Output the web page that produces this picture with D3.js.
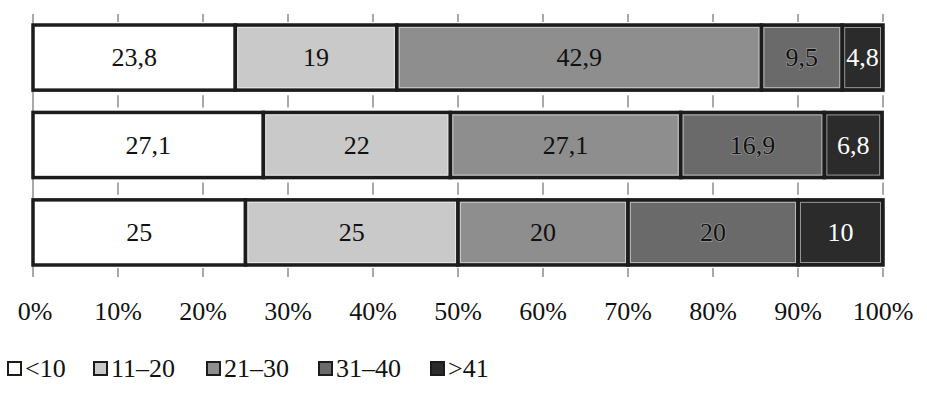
<!DOCTYPE html>
<html><head><meta charset="utf-8">
<script src="https://cdn.jsdelivr.net/npm/d3@7"></script>
<style>body{margin:0;background:#fff}svg{display:block}</style>
</head><body><svg id="c" width="927" height="396"></svg>
<script>
const rows = ["A","B","C"];
const seriesNames = ["<10","11\u201320","21\u201330","31\u201340",">41"];
const values = [
  [23.8, 19, 42.9, 9.5, 4.8],
  [27.1, 22, 27.1, 16.9, 6.8],
  [25, 25, 20, 20, 10]
];
const labels = [
  ["23,8","19","42,9","9,5","4,8"],
  ["27,1","22","27,1","16,9","6,8"],
  ["25","25","20","20","10"]
];
const fills = ["#ffffff","#c9c9c9","#8e8e8e","#6a6a6a","#2b2b2b"];
const textFill = ["#111","#111","#111","#111","#fff"];
const ticks = [0,10,20,30,40,50,60,70,80,90,100];

const svg = d3.select("#c");
const font = "'Liberation Serif','Times New Roman',serif";
const x = d3.scaleLinear().domain([0,100]).range([33,883]);
const y = d3.scaleBand().domain(rows).range([25,265]).paddingInner(0.255);

const gaps = [[14,22]];
for (let i=0;i<rows.length-1;i++){ gaps.push([y(rows[i])+y.bandwidth()+5, y(rows[i+1])-5]); }
gaps.push([268,277]);
const g = svg.append("g");
gaps.forEach(([a,b])=>{
  g.selectAll(null).data(ticks.slice(1)).enter().append("line")
    .attr("x1",d=>x(d)).attr("x2",d=>x(d)).attr("y1",a).attr("y2",b)
    .attr("stroke","#8c8c8c").attr("stroke-width",1.5);
});
svg.append("line").attr("x1",x(0)).attr("x2",x(0)).attr("y1",14).attr("y2",277)
  .attr("stroke","#8c8c8c").attr("stroke-width",1.5);

rows.forEach((r,i)=>{
  let cum=0;
  const segs = values[i].map((v,j)=>{const s={x0:cum,x1:cum+v,j,v,lab:labels[i][j]};cum+=v;return s;});
  const gr = svg.append("g");
  gr.selectAll("rect.o").data(segs).enter().append("rect")
    .attr("x",d=>x(d.x0)).attr("width",d=>x(d.x1)-x(d.x0))
    .attr("y",y(r)).attr("height",y.bandwidth())
    .attr("fill",d=>fills[d.j]).attr("stroke","#1c1c1c").attr("stroke-width",3.5);
  gr.selectAll("rect.i").data(segs).enter().append("rect")
    .attr("x",d=>x(d.x0)+2.5).attr("width",d=>Math.max(0,x(d.x1)-x(d.x0)-5))
    .attr("y",y(r)+2.5).attr("height",y.bandwidth()-5)
    .attr("fill","none").attr("stroke",d=>d.j===0?"none":"rgba(255,255,255,0.5)").attr("stroke-width",1);
  gr.selectAll("text").data(segs).enter().append("text")
    .attr("x",d=>x((d.x0+d.x1)/2)).attr("y",y(r)+y.bandwidth()/2+8.5)
    .attr("text-anchor","middle").attr("font-family",font).attr("font-size",26)
    .attr("fill",d=>textFill[d.j])
    .attr("stroke",d=>d.j===3?"rgba(200,200,200,0.45)":"none").attr("stroke-width",1.5).attr("paint-order","stroke")
    .text(d=>d.lab);
});

svg.selectAll("text.tick").data(ticks).enter().append("text")
  .attr("x",d=>x(d)+(d===0?2:0)).attr("y",320)
  .attr("text-anchor","middle").attr("font-family",font).attr("font-size",26).attr("fill","#111")
  .text(d=>d+"%");

const legX = [7,93,206,318,430];
const lg = svg.append("g");
seriesNames.forEach((n,j)=>{
  lg.append("rect").attr("x",legX[j]+1).attr("y",362).attr("width",13).attr("height",13)
    .attr("fill",fills[j]).attr("stroke","#1c1c1c").attr("stroke-width",2);
  lg.append("text").attr("x",legX[j]+18).attr("y",377).attr("font-family",font).attr("font-size",26)
    .attr("fill","#111").text(n);
});
</script></body></html>
